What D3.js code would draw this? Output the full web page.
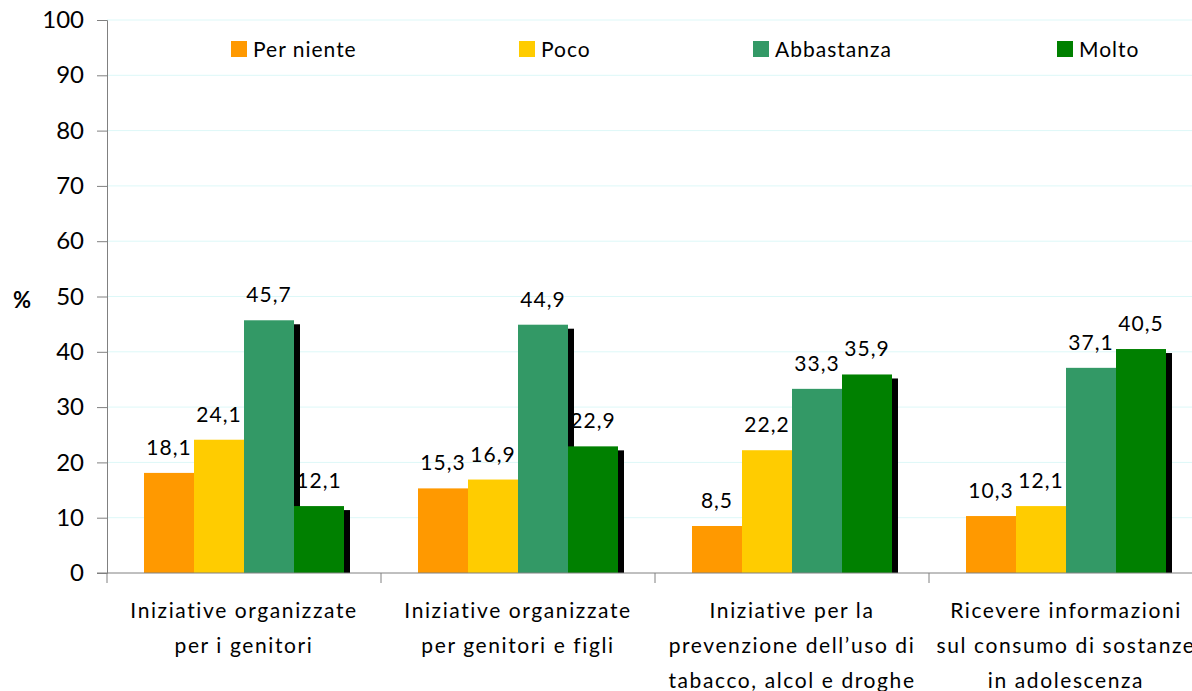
<!DOCTYPE html>
<html>
<head>
<meta charset="utf-8">
<script src="https://cdn.jsdelivr.net/npm/d3@7"></script>
<style>
  body { margin: 0; background: #fff; }
  text { font-family: Lato, "Open Sans", sans-serif; fill: #000; }
</style>
</head>
<body>
<div id="chart"></div>
<script>
// categories and series
var categories = [
    ["Iniziative organizzate", "per i genitori"],
    ["Iniziative organizzate", "per genitori e figli"],
    ["Iniziative per la", "prevenzione dell\u2019uso di", "tabacco, alcol e droghe"],
    ["Ricevere informazioni", "sul consumo di sostanze", "in adolescenza"]
];
var series = ["Per niente", "Poco", "Abbastanza", "Molto"];
var colors = ["#FF9900", "#FFCC00", "#339966", "#008000"];

var perNiente = [18.1, 15.3, 8.5, 10.3];
var poco = [24.1, 16.9, 22.2, 12.1];
var abbastanza = [45.7, 44.9, 33.3, 37.1];
var molto = [12.1, 22.9, 35.9, 40.5];

var yTicks = [0, 10, 20, 30, 40, 50, 60, 70, 80, 90, 100];

var values = [perNiente, poco, abbastanza, molto];
var data = [];
categories.forEach(function (c, i) {
    series.forEach(function (s, j) {
        data.push({ cat: i, key: s, idx: j, value: values[j][i] });
    });
});

var width = 1192, height = 691;
var svg = d3.select('#chart').append('svg')
    .attr('width', width)
    .attr('height', height);

var x0 = d3.scaleBand()
    .domain(d3.range(categories.length))
    .range([107, 1203]);

var x1 = d3.scaleBand()
    .domain(series)
    .range([37, x0.bandwidth() - 37]);

var y = d3.scaleLinear()
    .domain([0, 100])
    .range([573, 20]);

// gridlines
svg.append('g')
    .selectAll('line')
    .data(yTicks.slice(1))
    .enter().append('line')
    .attr('x1', 107).attr('x2', width)
    .attr('y1', d => y(d)).attr('y2', d => y(d))
    .attr('stroke', '#DDF8F8')
    .attr('stroke-width', 1);

// shadows first, then bars on top
var shadowDx = 6, shadowDy = 4;
svg.append('g').selectAll('rect')
    .data(data)
    .enter().append('rect')
    .attr('x', d => x0(d.cat) + x1(d.key) + shadowDx)
    .attr('width', x1.bandwidth())
    .attr('y', d => y(d.value) + shadowDy)
    .attr('height', d => y(0) - y(d.value) - shadowDy)
    .attr('fill', '#000');

svg.append('g').selectAll('rect')
    .data(data)
    .enter().append('rect')
    .attr('x', d => x0(d.cat) + x1(d.key))
    .attr('width', x1.bandwidth())
    .attr('y', d => y(d.value))
    .attr('height', d => y(0) - y(d.value))
    .attr('fill', d => colors[d.idx]);

// value labels
svg.append('g').selectAll('text')
    .data(data)
    .enter().append('text')
    .attr('x', d => x0(d.cat) + x1(d.key) + x1.bandwidth() / 2)
    .attr('y', d => y(d.value) - 18)
    .attr('text-anchor', 'middle')
    .style('font-size', '21px')
    .style('letter-spacing', '1px')
    .text(d => d3.format('.1f')(d.value).replace('.', ','));

// y axis
var yAxis = d3.axisLeft(y)
    .tickValues(yTicks)
    .tickSize(10)
    .tickPadding(13)
    .tickFormat(d3.format('d'));

var gy = svg.append('g')
    .attr('transform', 'translate(107,0)')
    .call(yAxis);
gy.select('.domain').attr('stroke', '#808080');
gy.selectAll('.tick line').attr('stroke', '#808080');
gy.selectAll('.tick text')
    .style('font-size', '24px')
    .style('font-family', 'Lato, sans-serif')
    .attr('fill', '#000');

// x axis line and category tick marks
svg.append('line')
    .attr('x1', 97).attr('x2', width)
    .attr('y1', y(0)).attr('y2', y(0))
    .attr('stroke', '#808080');

svg.append('g').selectAll('line')
    .data(d3.range(categories.length + 1))
    .enter().append('line')
    .attr('x1', d => 107 + d * x0.bandwidth())
    .attr('x2', d => 107 + d * x0.bandwidth())
    .attr('y1', y(0)).attr('y2', y(0) + 10)
    .attr('stroke', '#808080');

// category labels
var catLabels = svg.append('g').selectAll('text')
    .data(categories)
    .enter().append('text')
    .attr('text-anchor', 'middle')
    .style('font-size', '21px')
    .style('letter-spacing', '1.6px');

catLabels.selectAll('tspan')
    .data((d, i) => d.map(line => ({ line: line, i: i })))
    .enter().append('tspan')
    .attr('x', d => x0(d.i) + x0.bandwidth() / 2)
    .attr('y', (d, k) => 618 + k * 35)
    .text(d => d.line);

// % label
svg.append('text')
    .attr('x', 22).attr('y', 308)
    .attr('text-anchor', 'middle')
    .style('font-size', '22px')
    .style('font-weight', 'bold')
    .text('%');

// legend
var legendX = [231, 519, 753, 1057];
var legend = svg.append('g').selectAll('g')
    .data(series)
    .enter().append('g')
    .attr('transform', (d, i) => `translate(${legendX[i]}, 41)`);

legend.append('rect')
    .attr('width', 16).attr('height', 16)
    .attr('fill', (d, i) => colors[i]);

legend.append('text')
    .attr('x', 22).attr('y', 16)
    .style('font-size', '21px')
    .style('letter-spacing', '1px')
    .text(d => d);
</script>
</body>
</html>
